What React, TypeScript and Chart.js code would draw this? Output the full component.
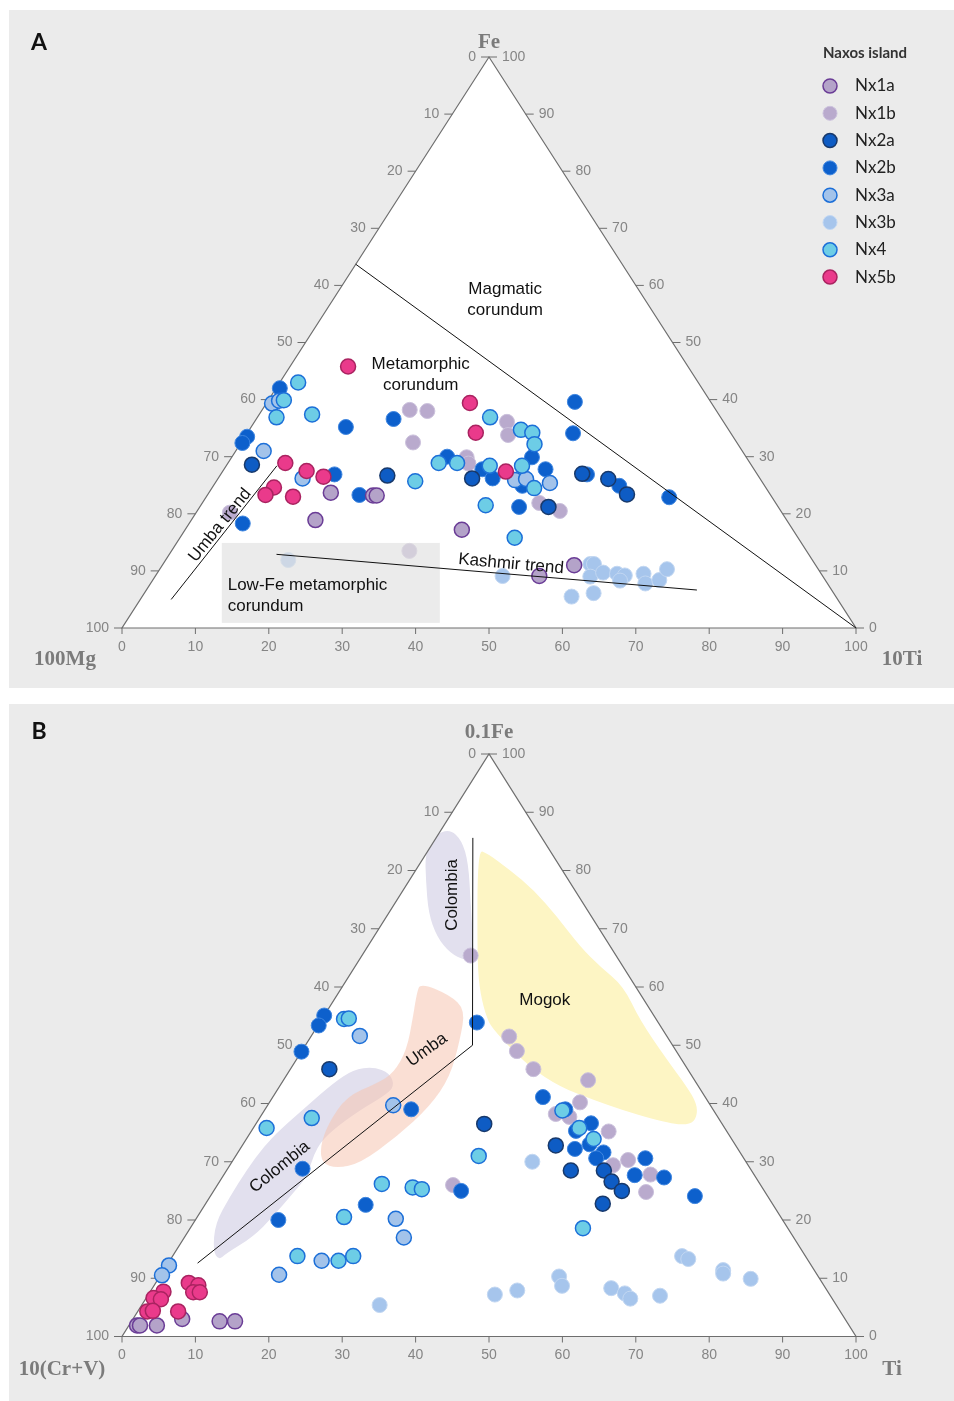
import React, { useEffect, useRef } from "react";
import { Chart, registerables } from "chart.js";

Chart.register(...registerables);

type Pt = [number, number]; // [Ti %, Fe %]; third component = 100 - Ti - Fe

// ---------- series ----------
const SERIES = ["Nx1a", "Nx1b", "Nx2a", "Nx2b", "Nx3a", "Nx3b", "Nx4", "Nx5b"];
const FILLS = ["#b4a3c9", "#b9aacd", "#0e5cc4", "#0d60cc", "#a3c3ea", "#a6c5ec", "#6dcde6", "#ea3a8b"];
const BORDERS = ["#6a3c96", "#cbc1dc", "#18396b", "#3f86e0", "#1c6fd8", "#c2d7f2", "#1c6fd8", "#a92360"];
const BORDER_W = [1.5, 1, 1.5, 1, 1.5, 1, 1.5, 1.5];
const DRAW_ORDER = [2, 6, 4, 5, 3, 7, 1, 0];

const TICKS = [0, 10, 20, 30, 40, 50, 60, 70, 80, 90, 100];

// ---------- Panel A : 100Mg - 10Ti - Fe ----------
const A_NX1A: Pt[] = [[16.6, 23.7], [22.6, 23.2], [23.1, 23.2], [16.9, 18.9], [37.7, 17.2], [56.1, 11.0], [52.3, 9.1]];
const A_NX1B: Pt[] = [[20.1, 38.2], [22.6, 38.0], [23.4, 32.5], [4.6, 20.2], [32.4, 13.5], [32.0, 29.9], [32.8, 28.8], [34.4, 36.1], [35.7, 33.8], [45.9, 21.9], [49.4, 20.5]];
const A_NX2A: Pt[] = [[3.4, 28.6], [22.8, 26.7], [34.6, 26.2], [49.2, 27.0], [53.2, 26.1], [57.1, 23.4], [47.5, 21.2]];
const A_NX2B: Pt[] = [[0.5, 42.0], [0.3, 33.5], [0.2, 32.4], [12.9, 35.2], [18.7, 36.6], [29.3, 30.0], [15.5, 26.9], [20.7, 23.3], [7.3, 18.3], [41.9, 39.6], [44.4, 34.1], [40.9, 29.9], [35.2, 27.8], [37.4, 26.2], [42.1, 24.9], [43.8, 27.8], [49.9, 26.9], [55.3, 24.9], [63.1, 22.9], [43.5, 21.2]];
const A_NX3A: Pt[] = [[0.8, 39.3], [1.5, 39.8], [3.8, 31.0], [11.5, 26.2], [40.6, 25.9], [42.0, 26.1], [45.6, 25.4]];
const A_NX3B: Pt[] = [[16.7, 11.9], [47.3, 9.1], [58.5, 5.5], [61.2, 6.1], [58.2, 11.2], [58.7, 11.2], [59.3, 9.0], [60.7, 9.7], [62.7, 9.5], [63.9, 9.2], [63.7, 8.3], [66.3, 9.5], [67.4, 7.8], [69.0, 8.4], [69.1, 10.3]];
const A_NX4: Pt[] = [[2.1, 39.9], [2.5, 43.0], [2.6, 36.9], [7.2, 37.4], [27.1, 25.7], [28.7, 28.9], [31.2, 28.9], [31.7, 36.9], [35.9, 28.4], [37.0, 34.7], [38.8, 34.2], [40.1, 32.2], [40.3, 28.4], [43.9, 24.5], [38.8, 21.5], [45.6, 15.8]];
const A_NX5B: Pt[] = [[7.9, 45.8], [7.8, 28.9], [11.4, 27.5], [14.2, 26.5], [8.4, 24.6], [7.9, 23.3], [11.8, 23.0], [27.7, 39.4], [31.1, 34.2], [38.6, 27.4]];

const A_MAGMATIC_LINE: Pt[] = [[0, 63.7], [100, 0]];
const A_UMBA_TREND: Pt[] = [[4.2, 5.0], [6.9, 28.4]];
const A_KASHMIR_TREND: Pt[] = [[14.6, 12.9], [75.0, 6.65]];

// ---------- Panel B : 10(Cr+V) - Ti - 0.1Fe ----------
const B_NX1A: Pt[] = [[1.1, 1.9], [1.5, 1.9], [3.8, 1.9], [6.7, 3.0], [12.0, 2.6], [14.1, 2.6]];
const B_NX1B: Pt[] = [[14.8, 65.4], [27.0, 51.5], [29.3, 49.0], [33.1, 45.9], [41.5, 44.0], [42.3, 40.2], [40.0, 38.2], [42.1, 37.7], [48.7, 35.2], [52.2, 29.4], [53.8, 30.3], [58.1, 27.8], [59.0, 24.8], [32.1, 26.0]];
const B_NX2A: Pt[] = [[5.3, 45.9], [31.1, 36.5], [42.7, 32.8], [46.9, 28.5], [51.4, 28.5], [53.4, 26.6], [55.6, 25.0], [54.1, 22.8]];
const B_NX2B: Pt[] = [[0, 55.1], [0.1, 53.4], [0, 48.9], [21.4, 53.9], [19.9, 39.0], [10.2, 28.8], [33.7, 25.0], [21.9, 22.6], [11.3, 20.0], [36.8, 41.1], [40.9, 39.0], [44.2, 35.3], [45.6, 36.6], [47.2, 33.0], [45.6, 32.2], [49.8, 31.6], [49.3, 30.6], [56.0, 30.6], [56.0, 27.7], [60.2, 27.3], [66.0, 24.1]];
const B_NX3A: Pt[] = [[6.6, 51.6], [17.1, 39.7], [27.2, 20.2], [29.9, 17.0], [20.7, 13.0], [16.1, 10.6], [0.3, 12.2], [0.2, 10.5]];
const B_NX3B: Pt[] = [[32.4, 5.4], [47.2, 7.2], [40.9, 30.0], [69.4, 13.8], [70.5, 13.3], [76.2, 11.4], [76.5, 10.8], [80.7, 9.9], [54.4, 10.3], [55.6, 8.7], [62.5, 8.3], [64.8, 7.4], [66.0, 6.5], [69.8, 7.0], [49.9, 7.9]];
const B_NX4: Pt[] = [[3.0, 54.5], [3.6, 54.6], [7.1, 37.5], [1.8, 35.8], [33.1, 31.0], [22.3, 26.2], [26.8, 25.6], [28.2, 25.3], [20.0, 20.5], [17.0, 13.8], [23.0, 13.0], [24.6, 13.8], [40.6, 38.8], [44.4, 35.8], [47.3, 33.9], [53.5, 18.6]];
const B_NX5B: Pt[] = [[4.5, 9.2], [6.0, 8.8], [5.9, 7.6], [6.8, 7.6], [1.8, 7.7], [1.0, 6.6], [2.1, 6.4], [1.3, 4.3], [2.0, 4.4], [5.5, 4.3]];

const B_BOUNDARY: Pt[] = [[5.0, 85.6], [22.75, 50.0], [4.0, 12.6]];

const B_COLOMBIA_UPPER: Pt[] = [[1.1, 87.1], [3.7, 85.2], [6.6, 81.2], [10.3, 74.4], [13.5, 68.6], [15.6, 64.6], [14.4, 64.6], [11.8, 65.8], [8.6, 68.6], [5.4, 72.7], [2.2, 78.4], [-0.2, 83.0], [-0.4, 86.1]];
const B_MOGOK: Pt[] = [[6.7, 83.5], [8.2, 83.0], [12.8, 80.1], [17.7, 76.7], [23.2, 72.1], [29.0, 66.9], [33.4, 63.5], [38.3, 60.1], [43.4, 54.3], [50.5, 47.5], [55.5, 42.9], [58.3, 40.0], [59.5, 37.7], [59.2, 36.3], [55.9, 36.6], [46.7, 39.5], [35.4, 44.0], [24.2, 52.6], [21.7, 55.5], [18.6, 60.1], [15.5, 65.8]];
const B_UMBA: Pt[] = [[10.3, 60.7], [15.4, 58.6], [18.7, 56.1], [20.6, 50.9], [22.4, 44.6], [22.2, 39.5], [20.3, 34.3], [17.6, 29.7], [14.8, 28.9], [12.4, 29.7], [10.7, 32.6], [9.8, 36.6], [10.0, 41.2], [13.0, 43.5], [14.4, 45.2], [14.2, 49.2], [12.2, 54.9], [10.7, 58.9]];
const B_COLOMBIA_LOWER: Pt[] = [[11.1, 46.3], [13.9, 45.2], [15.7, 42.9], [15.0, 41.2], [13.0, 38.9], [11.0, 35.5], [10.2, 32.6], [11.5, 27.4], [11.0, 24.6], [10.3, 20.6], [9.3, 17.1], [7.1, 14.3], [6.6, 13.1], [5.0, 14.8], [3.0, 19.4], [2.7, 24.0], [2.7, 28.6], [3.0, 32.6], [3.8, 35.5], [5.4, 39.5], [7.0, 43.5], [8.6, 45.8]];

// ---------- styling ----------
const SANS = '"Liberation Sans", Arial, Helvetica, sans-serif';
const SERIF = '"Liberation Serif", "Times New Roman", serif';
const LATO = 'Lato, "Open Sans", sans-serif';
const AXIS_GRAY = "#6e6e6e";
const TICK_GRAY = "#858585";
const LABEL_GRAY = "#7b7b7b";
const PANEL_BG = "#ebebeb";

type Note = { lines: string[]; x: number; y: number; rot?: number; align?: CanvasTextAlign };
type Region = { pts: Pt[]; color: string };

interface PanelDef {
  letter: string;
  left: number; top: number; width: number; height: number;
  padding: { left: number; right: number; top: number; bottom: number };
  series: Pt[][];
  vertex: { top: string; left: string; right: string };
  vertexOffset: { top: [number, number]; left: [number, number]; right: [number, number] };
  lines: Pt[][];
  regions: Region[];
  notes: Note[];
  box?: { x0: number; x1: number; y0: number; y1: number };
  legend: boolean;
}

const PANEL_A: PanelDef = {
  letter: "A",
  left: 9, top: 10, width: 945, height: 678,
  padding: { left: 113, right: 98, top: 47, bottom: 60 },
  series: [A_NX1A, A_NX1B, A_NX2A, A_NX2B, A_NX3A, A_NX3B, A_NX4, A_NX5B],
  vertex: { top: "Fe", left: "100Mg", right: "10Ti" },
  vertexOffset: { top: [0, -14], left: [-57, 32], right: [46, 32] },
  lines: [A_MAGMATIC_LINE, A_UMBA_TREND, A_KASHMIR_TREND],
  regions: [],
  notes: [
    { lines: ["Magmatic", "corundum"], x: 52.2, y: 59.4 },
    { lines: ["Metamorphic", "corundum"], x: 40.7, y: 46.2 },
    { lines: ["Umba trend"], x: 13.35, y: 18.0, rot: -51 },
    { lines: ["Kashmir trend"], x: 53.0, y: 11.2, rot: 5 },
    { lines: ["Low-Fe metamorphic", "corundum"], x: 14.4, y: 7.5, align: "left" },
  ],
  box: { x0: 13.6, x1: 43.3, y0: 0.9, y1: 14.9 },
  legend: true,
};

const PANEL_B: PanelDef = {
  letter: "B",
  left: 9, top: 704, width: 945, height: 697,
  padding: { left: 113, right: 98, top: 50, bottom: 64.5 },
  series: [B_NX1A, B_NX1B, B_NX2A, B_NX2B, B_NX3A, B_NX3B, B_NX4, B_NX5B],
  vertex: { top: "0.1Fe", left: "10(Cr+V)", right: "Ti" },
  vertexOffset: { top: [0, -21], left: [-60, 33], right: [36, 33] },
  lines: [B_BOUNDARY],
  regions: [
    { pts: B_COLOMBIA_UPPER, color: "#e2e0ee" },
    { pts: B_MOGOK, color: "#fdf5c4" },
    { pts: B_COLOMBIA_LOWER, color: "#e2e0ee" },
    { pts: B_UMBA, color: "rgba(246,196,176,0.55)" },
  ],
  notes: [
    { lines: ["Colombia"], x: 44.96, y: 75.8, rot: -90 },
    { lines: ["Mogok"], x: 57.6, y: 57.8 },
    { lines: ["Umba"], x: 41.55, y: 49.2, rot: -36 },
    { lines: ["Colombia"], x: 21.5, y: 29.1, rot: -39 },
  ],
  legend: false,
};

const toXY = (p: Pt) => ({ x: p[0] + p[1] / 2, y: p[1] });

function drawText(
  ctx: CanvasRenderingContext2D, s: string, x: number, y: number,
  font: string, color: string, align: CanvasTextAlign = "center", rot = 0
) {
  ctx.save();
  ctx.translate(x, y);
  if (rot) ctx.rotate((rot * Math.PI) / 180);
  ctx.font = font;
  ctx.fillStyle = color;
  ctx.textAlign = align;
  ctx.textBaseline = "middle";
  ctx.fillText(s, 0, 0);
  ctx.restore();
}

function smoothClosed(ctx: CanvasRenderingContext2D, pts: number[][]) {
  const n = pts.length;
  const mid = (a: number[], b: number[]) => [(a[0] + b[0]) / 2, (a[1] + b[1]) / 2];
  const m0 = mid(pts[n - 1], pts[0]);
  ctx.beginPath();
  ctx.moveTo(m0[0], m0[1]);
  for (let i = 0; i < n; i++) {
    const p = pts[i];
    const q = pts[(i + 1) % n];
    const m = mid(p, q);
    ctx.quadraticCurveTo(p[0], p[1], m[0], m[1]);
  }
  ctx.closePath();
}

function makePlugin(def: PanelDef) {
  const helpers = (chart: any) => {
    const xs = chart.scales.x;
    const ys = chart.scales.y;
    const P = (x: number, y: number) => [xs.getPixelForValue(x), ys.getPixelForValue(y)];
    const T = (ti: number, fe: number) => P(ti + fe / 2, fe);
    return { P, T };
  };
  return {
    id: "ternary" + def.letter,
    beforeDatasetsDraw(chart: any) {
      const ctx: CanvasRenderingContext2D = chart.ctx;
      const { T } = helpers(chart);
      const L = T(0, 0), R = T(100, 0), A = T(0, 100);
      const triPath = () => {
        ctx.beginPath();
        ctx.moveTo(L[0], L[1]);
        ctx.lineTo(R[0], R[1]);
        ctx.lineTo(A[0], A[1]);
        ctx.closePath();
      };
      ctx.save();
      triPath();
      ctx.fillStyle = "#ffffff";
      ctx.fill();
      // regions
      ctx.save();
      triPath();
      ctx.clip();
      for (const r of def.regions) {
        smoothClosed(ctx, r.pts.map((p) => T(p[0], p[1])));
        ctx.fillStyle = r.color;
        ctx.fill();
      }
      ctx.restore();
      // frame
      triPath();
      ctx.strokeStyle = AXIS_GRAY;
      ctx.lineWidth = 1.2;
      ctx.stroke();
      // ticks
      ctx.lineWidth = 1;
      ctx.strokeStyle = AXIS_GRAY;
      const tf = "14px " + SANS;
      for (const t of TICKS) {
        // bottom axis (Ti / 10Ti)
        const b = T(t, 0);
        ctx.beginPath();
        ctx.moveTo(b[0], b[1]);
        ctx.lineTo(b[0], b[1] + 6);
        ctx.stroke();
        drawText(ctx, String(t), b[0], b[1] + 19, tf, TICK_GRAY);
        // left axis (Mg / Cr+V), value t at Fe = 100 - t
        const l = T(0, 100 - t);
        ctx.beginPath();
        ctx.moveTo(l[0], l[1]);
        ctx.lineTo(l[0] - 8, l[1]);
        ctx.stroke();
        drawText(ctx, String(t), l[0] - 13, l[1], tf, TICK_GRAY, "right");
        // right axis (Fe), value t at Fe = t
        const r = T(100 - t, t);
        ctx.beginPath();
        ctx.moveTo(r[0], r[1]);
        ctx.lineTo(r[0] + 8, r[1]);
        ctx.stroke();
        drawText(ctx, String(t), r[0] + 13, r[1], tf, TICK_GRAY, "left");
      }
      ctx.restore();
    },
    afterDatasetsDraw(chart: any) {
      const ctx: CanvasRenderingContext2D = chart.ctx;
      const { P, T } = helpers(chart);
      const L = T(0, 0), R = T(100, 0), A = T(0, 100);
      ctx.save();
      // low-Fe box (semi transparent over points)
      if (def.box) {
        const p0 = P(def.box.x0, def.box.y1);
        const p1 = P(def.box.x1, def.box.y0);
        ctx.fillStyle = "rgba(224,224,224,0.66)";
        ctx.fillRect(p0[0], p0[1], p1[0] - p0[0], p1[1] - p0[1]);
      }
      // lines
      ctx.strokeStyle = "#111111";
      ctx.lineWidth = 1;
      for (const ln of def.lines) {
        ctx.beginPath();
        ln.forEach((p, i) => {
          const q = T(p[0], p[1]);
          if (i === 0) ctx.moveTo(q[0], q[1]);
          else ctx.lineTo(q[0], q[1]);
        });
        ctx.stroke();
      }
      // notes
      const nf = "17px " + SANS;
      for (const n of def.notes) {
        const c = P(n.x, n.y);
        n.lines.forEach((s, i) => {
          drawText(ctx, s, c[0], c[1] + i * 21, nf, "#111111", n.align || "center", n.rot || 0);
        });
      }
      // vertex labels
      const vf = "bold 21px " + SERIF;
      const vo = def.vertexOffset;
      drawText(ctx, def.vertex.top, A[0] + vo.top[0], A[1] + vo.top[1], vf, LABEL_GRAY);
      drawText(ctx, def.vertex.left, L[0] + vo.left[0], L[1] + vo.left[1], vf, LABEL_GRAY);
      drawText(ctx, def.vertex.right, R[0] + vo.right[0], R[1] + vo.right[1], vf, LABEL_GRAY);
      // panel letter
      drawText(ctx, def.letter, 30, def.letter === "A" ? 33 : 28, "bold 23px " + LATO, "#111111");
      // legend
      if (def.legend) {
        drawText(ctx, "Naxos island", 814, 43, "bold 15px " + LATO, "#333333", "left");
        chart.data.datasets.forEach((ds: any, i: number) => {
          const y = 76 + i * 27.3;
          ctx.beginPath();
          ctx.arc(821, y, 7, 0, Math.PI * 2);
          ctx.fillStyle = ds.backgroundColor;
          ctx.fill();
          ctx.lineWidth = ds.borderWidth;
          ctx.strokeStyle = ds.borderColor;
          ctx.stroke();
          drawText(ctx, ds.label, 846, y, "17px " + LATO, "#222222", "left");
        });
      }
      ctx.restore();
    },
  };
}

function TernaryPanel({ def }: { def: PanelDef }) {
  const ref = useRef<HTMLCanvasElement>(null);
  useEffect(() => {
    if (!ref.current) return;
    const chart = new Chart(ref.current, {
      type: "scatter",
      data: {
        datasets: SERIES.map((name, i) => ({
          label: name,
          data: def.series[i].map(toXY),
          backgroundColor: FILLS[i],
          borderColor: BORDERS[i],
          borderWidth: BORDER_W[i],
          pointRadius: 7.5,
          pointHoverRadius: 7.5,
          order: DRAW_ORDER[i],
          clip: false,
        })),
      },
      options: {
        responsive: false,
        animation: false,
        devicePixelRatio: 1,
        events: [],
        layout: { padding: def.padding },
        scales: {
          x: { type: "linear", min: 0, max: 100, display: false },
          y: { type: "linear", min: 0, max: 100, display: false },
        },
        plugins: { legend: { display: false }, tooltip: { enabled: false } },
      },
      plugins: [makePlugin(def)],
    } as any);
    return () => chart.destroy();
  }, [def]);
  return (
    <div
      style={{
        position: "absolute",
        left: def.left,
        top: def.top,
        width: def.width,
        height: def.height,
        background: PANEL_BG,
      }}
    >
      <canvas
        ref={ref}
        width={def.width}
        height={def.height}
        style={{ display: "block", width: def.width, height: def.height }}
      />
    </div>
  );
}

export default function App() {
  return (
    <div style={{ position: "absolute", left: 0, top: 0, width: 954, height: 1401, background: "#ffffff" }}>
      <TernaryPanel def={PANEL_A} />
      <TernaryPanel def={PANEL_B} />
    </div>
  );
}
